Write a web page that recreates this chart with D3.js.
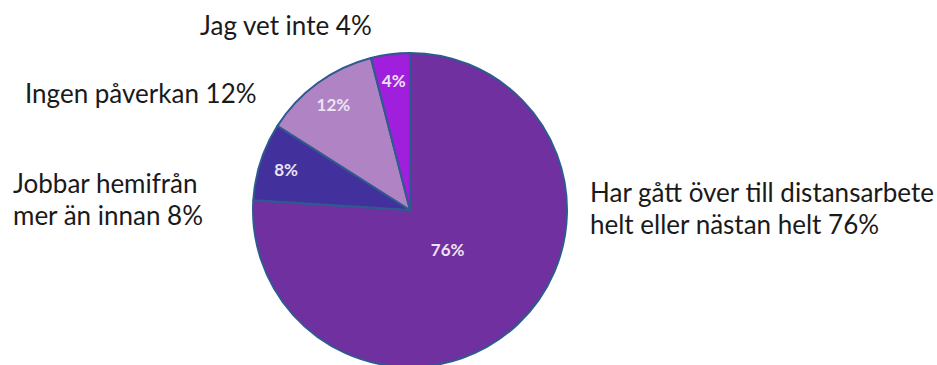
<!DOCTYPE html>
<html>
<head>
	<meta charset="utf-8">
	<script src="https://d3js.org/d3.v7.min.js"></script>
	<style type="text/css">
		body { margin: 0; background: #fff; }
		.outer { font-family: Lato, "Open Sans", sans-serif; font-size: 26px; fill: #1a1a1a; }
		.inner { font-family: Lato, "Open Sans", sans-serif; font-size: 17px; font-weight: bold; fill: #ece3f2; text-anchor: middle; }
	</style>
</head>
<body>
<script>
    // answers, in drawing order clockwise from 12 o'clock
    var categories = ["Har gått över till distansarbete helt eller nästan helt",
                      "Jobbar hemifrån mer än innan",
                      "Ingen påverkan",
                      "Jag vet inte"];
    var values = [76, 8, 12, 4];
    var colors = ["#7030a0", "#42319c", "#b083c5", "#a01fdc"];

    var width = 937, height = 365;
    var cx = 410, cy = 210, radius = 157;

    var svg = d3.select("body").append("svg")
        .attr("width", width)
        .attr("height", height);

    var pie = d3.pie().sort(null).value(function(d) { return d; });
    var arcs = pie(values);

    var arc = d3.arc().innerRadius(0).outerRadius(radius);

    var g = svg.append("g").attr("transform", "translate(" + cx + "," + cy + ")");

    g.selectAll("path")
        .data(arcs)
        .enter().append("path")
        .attr("d", arc)
        .style("fill", function(d, i) { return colors[i]; })
        .style("stroke", "#2f5a8f")
        .style("stroke-width", 2)
        .style("stroke-linejoin", "round");

    // percentage labels inside the slices (big slice closer to the middle)
    var labelArc = function(d) {
        var r = d.data > 50 ? radius * 0.35 : radius * 0.83;
        return d3.arc().innerRadius(r).outerRadius(r).centroid(d);
    };
    g.selectAll("text.inner")
        .data(arcs)
        .enter().append("text")
        .attr("class", "inner")
        .attr("x", function(d) { return labelArc(d)[0]; })
        .attr("y", function(d) { return labelArc(d)[1]; })
        .attr("dy", "0.35em")
        .text(function(d) { return d.data + "%"; });

    // outside labels
    var outer = [
        { lines: ["Har gått över till distansarbete", "helt eller nästan helt " + values[0] + "%"], x: 590, y: 202 },
        { lines: ["Jobbar hemifrån", "mer än innan " + values[1] + "%"], x: 13, y: 193 },
        { lines: [categories[2] + " " + values[2] + "%"], x: 25, y: 103 },
        { lines: [categories[3] + " " + values[3] + "%"], x: 200, y: 35 }
    ];

    var t = svg.selectAll("text.outer")
        .data(outer)
        .enter().append("text")
        .attr("class", "outer")
        .attr("x", function(d) { return d.x; })
        .attr("y", function(d) { return d.y; });

    t.selectAll("tspan")
        .data(function(d) { return d.lines.map(function(l) { return { l: l, x: d.x }; }); })
        .enter().append("tspan")
        .attr("x", function(d) { return d.x; })
        .attr("dy", function(d, i) { return i === 0 ? 0 : 32; })
        .text(function(d) { return d.l; });
</script>
</body>
</html>
